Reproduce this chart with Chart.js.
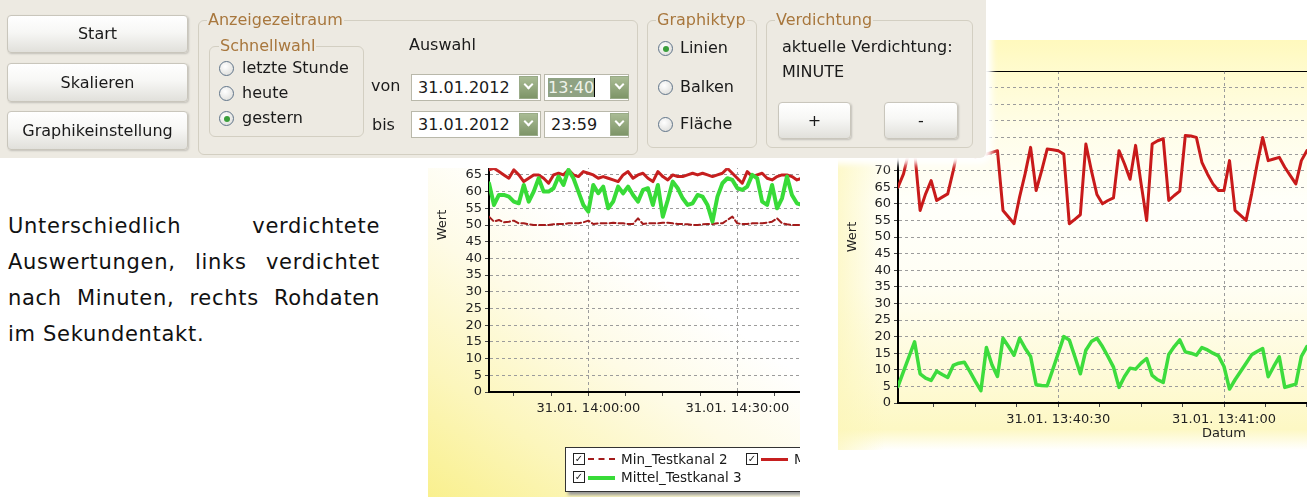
<!DOCTYPE html>
<html>
<head>
<meta charset="utf-8">
<script src="https://cdn.jsdelivr.net/npm/chart.js@4.4.1/dist/chart.umd.min.js"></script>
<style>
body{margin:0;width:1307px;height:497px;overflow:hidden;position:relative;background:#fff;font-family:"DejaVu Sans",sans-serif;color:#1a1a1a}
#panel{position:absolute;left:0;top:0;width:986px;height:158px;background:#edeae2;box-shadow:0 0 6px 6px #fff;z-index:5;border-radius:0 0 6px 0}
.btn{position:absolute;background:linear-gradient(#ffffff,#f7f7f5 45%,#e1e0db);border:1px solid #c9c6bc;border-radius:4px;box-shadow:1px 1px 2px rgba(0,0,0,.18);font-size:16px;text-align:center;box-sizing:border-box}
.fs{position:absolute;border:1px solid #d3cfc2;border-radius:6px;box-sizing:border-box}
.lg{position:absolute;top:-11px;left:8px;background:#edeae2;color:#a8773d;font-size:16px;padding:0 1px;line-height:20px;white-space:nowrap}
.t{position:absolute;font-size:16px;white-space:nowrap;line-height:20px}
.radio{position:absolute;width:13px;height:13px;border:1px solid #61758a;border-radius:50%;background:radial-gradient(circle at 40% 35%,#fff,#d8d8d4)}
.radio.on::after{content:'';position:absolute;left:3.5px;top:3.5px;width:6px;height:6px;border-radius:50%;background:#3a9e3a}
.inp{position:absolute;background:#fff;border:1px solid #b9b8aa;box-sizing:border-box;font-size:16px;line-height:25px;padding-left:6px;height:27px}
.sel{background:#8fa283;color:#eef2ea;border-right:1px solid #000}
.dd{position:absolute;top:2px;width:17px;height:21px;background:linear-gradient(#a9bb94,#7e9568);box-shadow:0 0 0 1px #9aab88}
.dd::after{content:'';position:absolute;left:5px;top:4px;width:5px;height:5px;border-right:2px solid #fff;border-bottom:2px solid #fff;transform:rotate(45deg)}
#text{position:absolute;left:8px;top:208px;width:372px;font-size:21px;line-height:36px;letter-spacing:0.7px;text-align:justify;color:#111}
#leftBox{position:absolute;left:428px;top:168px;width:372px;height:329px;overflow:hidden;
  background:linear-gradient(35deg,#f9f08e 0%,#fcf6bc 22%,#fefbe6 45%,#ffffff 65%,#ffffff 100%)}
#leftWrap{position:absolute;left:0;top:-128px}
#rightBox{position:absolute;left:838px;top:40px;width:469px;height:410px;overflow:hidden;
  background:linear-gradient(to right,rgba(252,246,185,.7) 0,rgba(255,255,255,0) 10%),
  linear-gradient(to bottom,#fff9bd 0,#fffbcf 8%,#fffde9 22%,#fffffa 40%,#fffef4 60%,#fefad3 85%,#fdf8c4 95%,#fff 100%)}
#legend{position:absolute;left:137px;top:279px;width:320px;height:43px;background:#fff;border:1px solid #333;box-shadow:3px 3px 3px #999;font-size:13.5px}
.li{position:absolute;height:18px;line-height:18px;white-space:nowrap}
.cb{position:absolute;left:0;top:3px;width:10px;height:10px;border:1px solid #222;font-size:10px;line-height:10px;text-align:center}
.sw{position:absolute;left:15px;top:8px;width:27px;height:0}
.nm{position:absolute;left:48px;top:0}
</style>
</head>
<body>

<div id="panel">
  <div class="btn" style="left:7px;top:15px;width:181px;height:38px;line-height:36px">Start</div>
  <div class="btn" style="left:7px;top:63px;width:181px;height:39px;line-height:37px">Skalieren</div>
  <div class="btn" style="left:7px;top:111px;width:181px;height:39px;line-height:37px">Graphikeinstellung</div>

  <div class="fs" style="left:198px;top:20px;width:440px;height:135px">
    <span class="lg">Anzeigezeitraum</span>
  </div>
  <div class="fs" style="left:209px;top:46px;width:155px;height:91px">
    <span class="lg" style="left:9px">Schnellwahl</span>
  </div>
  <div class="radio" style="left:219px;top:61px"></div><div class="t" style="left:242px;top:58px">letzte Stunde</div>
  <div class="radio" style="left:219px;top:86px"></div><div class="t" style="left:242px;top:83px">heute</div>
  <div class="radio on" style="left:219px;top:111px"></div><div class="t" style="left:242px;top:108px">gestern</div>

  <div class="t" style="left:409px;top:35px">Auswahl</div>
  <div class="t" style="left:371px;top:76px">von</div>
  <div class="t" style="left:372px;top:115px">bis</div>
  <div class="inp" style="left:411px;top:74px;width:130px">31.01.2012<span class="dd" style="left:108px"></span></div>
  <div class="inp" style="left:544px;top:74px;width:85px;padding-left:3px"><span class="sel">13:40</span><span class="dd" style="left:66px"></span></div>
  <div class="inp" style="left:411px;top:111px;width:130px">31.01.2012<span class="dd" style="left:108px"></span></div>
  <div class="inp" style="left:544px;top:111px;width:85px">23:59<span class="dd" style="left:66px"></span></div>

  <div class="fs" style="left:647px;top:20px;width:110px;height:128px">
    <span class="lg">Graphiktyp</span>
  </div>
  <div class="radio on" style="left:658px;top:41px"></div><div class="t" style="left:680px;top:38px">Linien</div>
  <div class="radio" style="left:658px;top:80px"></div><div class="t" style="left:680px;top:77px">Balken</div>
  <div class="radio" style="left:658px;top:117px"></div><div class="t" style="left:680px;top:114px">Fläche</div>

  <div class="fs" style="left:766px;top:20px;width:207px;height:128px">
    <span class="lg">Verdichtung</span>
  </div>
  <div class="t" style="left:782px;top:37px">aktuelle Verdichtung:</div>
  <div class="t" style="left:782px;top:62px">MINUTE</div>
  <div class="btn" style="left:778px;top:102px;width:73px;height:37px;line-height:35px">+</div>
  <div class="btn" style="left:884px;top:102px;width:74px;height:37px;line-height:35px">-</div>
</div>

<div id="text">Unterschiedlich verdichtete Auswertungen, links verdichtet nach Minuten, rechts Rohdaten im Sekundentakt.</div>

<div id="leftBox">
  <div id="leftWrap"><canvas id="leftChart" width="737" height="457"></canvas></div>
  <div id="legend"></div>
</div>

<div id="rightBox">
  <canvas id="rightChart" width="722" height="410"></canvas>
</div>

<script>
// links: Minutenwerte ab 13:40 (Minuten des Tages)
const leftStart = 820;
const leftNames = ['Min_Testkanal 2', 'Max_Testkanal 2', 'Mittel_Testkanal 3'];
const leftMin = [52.5, 51, 51.5, 50.8, 51, 51.3, 50.5, 50.5, 50.2, 50, 50, 50, 50, 50.2, 50.3, 50.3,
  50.5, 50.5, 50.5, 50.8, 51.3, 50.3, 50.5, 50.5, 50.5, 50.7, 50.5, 50.5, 50.3, 50.3, 52, 50.3,
  50.5, 50.5, 50.5, 50.7, 50.7, 50.5, 50.3, 50.3, 50.2, 50, 50, 50.2, 50.3, 50.3, 50.5, 50.5,
  51.5, 52.5, 50.5, 50.3, 50.3, 50.5, 50.5, 50.5, 50.7, 51, 52, 50.5, 50.2, 50, 50, 50];
const leftMax = [66.5, 67, 66, 65, 64, 66.5, 65, 63, 64, 65, 65, 64, 62.5, 65, 65.5, 65,
  66.5, 65, 64.5, 66, 65.5, 65, 64, 64.5, 64, 63.5, 63, 65, 66, 64, 65, 65.5,
  64, 63, 66, 64.5, 63.5, 65, 64.5, 64.5, 65, 65.5, 65, 65.5, 65, 64.5, 65, 65.5,
  67, 65.5, 64, 62.5, 66, 64.5, 65, 65.5, 64, 63.5, 64.5, 65, 65, 64.5, 63.5, 64];
const leftMittel3 = [62.5, 56, 59, 59, 58.5, 57, 56.5, 62, 57, 60, 64, 60, 60, 61, 64.5, 62,
  66.5, 64, 60, 56, 54, 62, 59.5, 61.5, 55, 57, 61.5, 59.5, 61.5, 59, 57, 60.5,
  61, 56, 62, 52.5, 57.5, 63, 61, 58, 56, 56.5, 59, 58.5, 56, 51, 58.5, 62.5,
  64, 63.5, 61, 60.5, 61.5, 65, 64, 57, 56, 62, 55, 58, 64.5, 59, 56.5, 56];

// rechts: Rohdaten im Sekundentakt ab 13:40:01 (Sekunden nach 13:40:00)
const rightStart = 1;
const rightNames = ['Testkanal 2', 'Testkanal 3'];
const rightKanal2 = [65, 69, 76, 76, 58, 63, 67, 61, 62, 63, 70, 78, 80, 77, 74, 75,
  75, 75.5, 76, 58, 56, 54, 62, 69, 77, 64, 70, 76.5, 76.3, 76, 75, 54,
  55.3, 56.7, 78, 70, 62.8, 60, 61, 61.8, 76, 72, 67.4, 77.6, 66, 55, 78, 79,
  79.6, 61, 62.5, 63.8, 80.6, 80.4, 80, 72.5, 69, 66, 64, 64, 73, 58, 56.5, 55,
  63, 72, 80, 73, 73.5, 74, 71, 68.5, 66, 73, 76];
const rightKanal3 = [5, 9.5, 14, 18.4, 8.8, 7.5, 6.8, 9.6, 8.6, 7.7, 11.3, 12, 12.3, 9.5, 6.5, 3.7,
  16.7, 11.5, 8, 19.5, 17, 14.4, 19.5, 16.5, 14, 5.5, 5.3, 5.2, 10, 15, 20, 19,
  14, 8.8, 15.9, 18.5, 19.5, 17, 14, 10.8, 4.7, 8, 10.5, 10.2, 12, 13.4, 8.3, 7,
  6.2, 14.6, 17, 19, 15.4, 15, 14.4, 16.7, 16, 15, 14.2, 11, 4.2, 7, 9.5, 12,
  14.5, 15.5, 16.4, 7.9, 11, 13.9, 4.7, 5.2, 5.7, 14, 17];

const chartFont = { family: 'DejaVu Sans', size: 13 };
const gridGrey = '#9c9c9c';

function pad(n) { return String(n).padStart(2, '0'); }
function minuteLabel(v) { return '31.01. ' + pad(Math.floor(v / 60)) + ':' + pad(v % 60) + ':00'; }
function secondLabel(v) {
  const t = 13 * 3600 + 40 * 60 + v;
  return '31.01. ' + pad(Math.floor(t / 3600)) + ':' + pad(Math.floor(t / 60) % 60) + ':' + pad(t % 60);
}

function makeChart(id, cfg) {
  return new Chart(document.getElementById(id), {
    type: 'line',
    data: { labels: cfg.times, datasets: cfg.datasets },
    options: {
      responsive: false,
      animation: false,
      layout: { padding: cfg.padding },
      plugins: { legend: { display: false }, tooltip: { enabled: false } },
      elements: {
        point: { radius: 0 },
        line: { tension: 0, borderJoinStyle: 'round', borderCapStyle: 'round' }
      },
      scales: {
        x: {
          type: 'linear',
          min: cfg.xMin,
          max: cfg.xMax,
          afterFit: s => { s.height = cfg.xHeight; },
          ticks: {
            stepSize: 7.5, autoSkip: false, maxRotation: 0, includeBounds: false,
            font: chartFont, color: '#222', padding: 5,
            callback: v => (v % 30 === 0 ? cfg.fmt(v) : '')
          },
          grid: {
            color: c => (c.tick && c.tick.value % 30 === 0 ? gridGrey : 'rgba(0,0,0,0)'),
            tickColor: '#444', tickLength: 4
          },
          border: { color: '#000', width: 2, dash: [3, 3] },
          title: { display: true, text: 'Datum', font: chartFont, color: '#222', padding: { top: 0, bottom: 3 } }
        },
        y: {
          min: 0,
          max: 100,
          afterFit: s => { s.width = cfg.yWidth; },
          ticks: { stepSize: 5, autoSkip: false, font: chartFont, color: '#222', padding: 3 },
          grid: {
            color: c => {
              if (!c.tick) return gridGrey;
              if (c.tick.value === 100) return '#000';
              if (c.tick.value === 0) return 'rgba(0,0,0,0)';
              return gridGrey;
            },
            tickColor: '#444', tickLength: 4
          },
          border: { color: '#000', width: 2, dash: c => (c.tick && c.tick.value === 100 ? [] : [3, 3]) },
          title: { display: true, text: 'Wert', font: chartFont, color: '#222', padding: { top: 7, bottom: 0 } }
        }
      }
    }
  });
}

const leftSets = [
  { label: leftNames[0], data: leftMin, borderColor: '#a31b1b', borderWidth: 2, borderDash: [6, 3], order: 2 },
  { label: leftNames[1], data: leftMax, borderColor: '#c61f1f', borderWidth: 3, order: 1 },
  { label: leftNames[2], data: leftMittel3, borderColor: '#38db38', borderWidth: 4, order: 0 }
];

makeChart('leftChart', {
  times: leftMittel3.map((_, i) => leftStart + i),
  datasets: leftSets,
  padding: { left: 0, top: 18, right: 12, bottom: 63 },
  yWidth: 61, xHeight: 42,
  xMin: 820, xMax: 953.7,
  fmt: minuteLabel
});

makeChart('rightChart', {
  times: rightKanal2.map((_, i) => rightStart + i),
  datasets: [
    { label: rightNames[0], data: rightKanal2, borderColor: '#c81a1a', borderWidth: 3 },
    { label: rightNames[1], data: rightKanal3, borderColor: '#3ddc3d', borderWidth: 3.5 }
  ],
  padding: { left: 0, top: 31, right: 10, bottom: 6 },
  yWidth: 60, xHeight: 41,
  xMin: 1, xMax: 119,
  fmt: secondLabel
});

// Legende mit Haekchen wie in der Vorlage
const legend = document.getElementById('legend');
const slots = [[7, 2], [180, 2], [7, 20]];
leftSets.forEach((ds, i) => {
  const item = document.createElement('div');
  item.className = 'li';
  item.style.left = slots[i][0] + 'px';
  item.style.top = slots[i][1] + 'px';
  const dash = ds.borderDash ? 'dashed' : 'solid';
  item.innerHTML = '<span class="cb">&#10003;</span>' +
    '<span class="sw" style="border-top:' + ds.borderWidth + 'px ' + dash + ' ' + ds.borderColor + '"></span>' +
    '<span class="nm">' + ds.label + '</span>';
  legend.appendChild(item);
});
</script>
</body>
</html>
